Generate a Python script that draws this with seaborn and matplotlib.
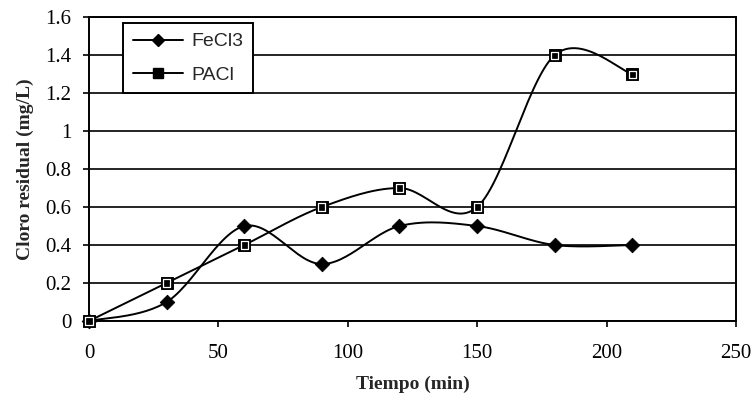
import numpy as np
import matplotlib
matplotlib.use('Agg')
import matplotlib.pyplot as plt
import seaborn as sns

# data
tiempo = [0, 30, 60, 90, 120, 150, 180, 210]
fecl3 = [0.0, 0.1, 0.5, 0.3, 0.5, 0.5, 0.4, 0.4]
pacl = [0.0, 0.2, 0.4, 0.6, 0.7, 0.6, 1.4, 1.3]
y_ticks = [0, 0.2, 0.4, 0.6, 0.8, 1, 1.2, 1.4, 1.6]
y_tick_labels = ['0', '0.2', '0.4', '0.6', '0.8', '1', '1.2', '1.4', '1.6']
x_ticks = [0, 50, 100, 150, 200, 250]


def smooth_curve(x, y, n=30):
    """Excel-like smoothed line: Catmull-Rom segments as cubic Beziers."""
    x = np.asarray(x, float)
    y = np.asarray(y, float)
    pts = np.column_stack([x, y])
    out = []
    for i in range(len(pts) - 1):
        p0 = pts[max(i - 1, 0)]
        p1 = pts[i]
        p2 = pts[i + 1]
        p3 = pts[min(i + 2, len(pts) - 1)]
        c1 = p1 + (p2 - p0) / 6.0
        c2 = p2 - (p3 - p1) / 6.0
        t = np.linspace(0, 1, n)[:, None]
        seg = ((1 - t) ** 3) * p1 + 3 * ((1 - t) ** 2) * t * c1 \
            + 3 * (1 - t) * t ** 2 * c2 + t ** 3 * p2
        out.append(seg if i == 0 else seg[1:])
    curve = np.vstack(out)
    return curve[:, 0], curve[:, 1]


sns.set_style('white')
plt.rcParams['font.family'] = ['Liberation Serif', 'DejaVu Serif']

fig = plt.figure(figsize=(7.54, 4.08), dpi=100)
ax = fig.add_axes([0.118, 0.2132, 0.858, 0.745])

# smoothed lines
xs, ys = smooth_curve(tiempo, fecl3)
sns.lineplot(x=xs, y=ys, ax=ax, color='black', lw=1.4, sort=False, estimator=None)
xs, ys = smooth_curve(tiempo, pacl)
sns.lineplot(x=xs, y=ys, ax=ax, color='black', lw=1.4, sort=False, estimator=None)

# markers
sns.scatterplot(x=tiempo, y=fecl3, ax=ax, marker='D', s=55, color='black',
                edgecolor='black', zorder=5, clip_on=False)
sns.scatterplot(x=tiempo, y=pacl, ax=ax, marker='s', s=70, color='black',
                edgecolor='black', zorder=5, clip_on=False)
sns.scatterplot(x=tiempo, y=pacl, ax=ax, marker='s', s=26, color='none',
                edgecolor='white', linewidth=0.9, zorder=6, clip_on=False)

# legend handles
h1, = ax.plot([], [], color='black', lw=1.4, marker='D', ms=6.5, mfc='black')
h2, = ax.plot([], [], color='black', lw=1.4, marker='s', ms=6.5, mfc='black')
leg = ax.legend([h1, h2], ['FeCl3', 'PACl'], loc='upper left',
                bbox_to_anchor=(0.0526, 0.98), frameon=True, fancybox=False,
                edgecolor='black', framealpha=1, borderpad=0.5,
                labelspacing=0.8, handlelength=2.6, handletextpad=0.4,
                borderaxespad=0,
                prop={'family': 'Liberation Sans', 'size': 14})
leg.get_frame().set_linewidth(1.4)

ax.set_xlim(0, 250)
ax.set_ylim(0, 1.6)
ax.set_xticks(x_ticks)
ax.set_yticks(y_ticks)
ax.set_yticklabels(y_tick_labels)
ax.yaxis.grid(True, color='black', lw=1.2)
ax.set_axisbelow(True)
ax.tick_params(axis='both', direction='out', length=4.5, width=1.2,
               labelsize=15, colors='black', left=True, bottom=True)
ax.tick_params(axis='x', pad=12)
ax.tick_params(axis='y', pad=8)
for s in ax.spines.values():
    s.set_visible(True)
    s.set_color('black')
    s.set_linewidth(1.4)

ax.set_xlabel('Tiempo (min)', fontsize=14, fontweight='bold', labelpad=9)
ax.set_ylabel('Cloro residual (mg/L)', fontsize=14, fontweight='bold', labelpad=8)

plt.savefig('out.png', dpi=100)
plt.close()
